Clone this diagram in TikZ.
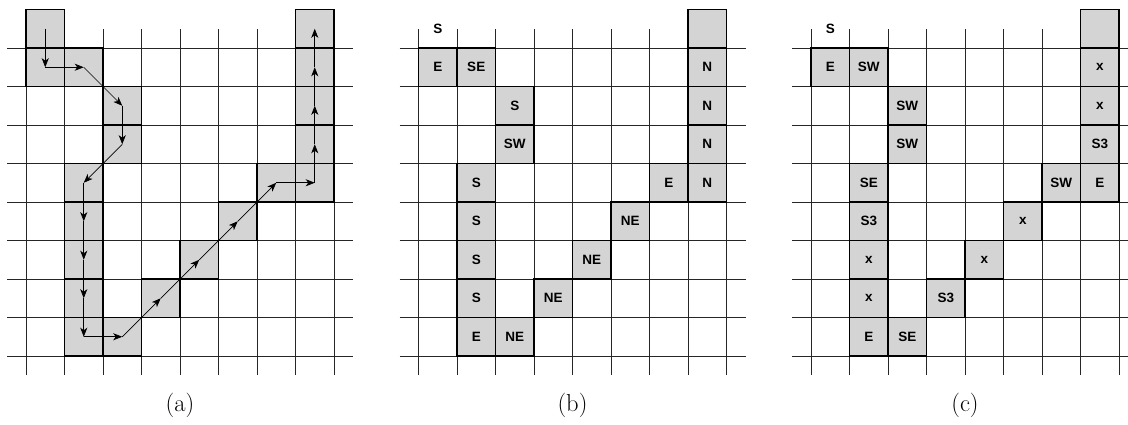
\documentclass[tikz,border=0pt]{standalone}
\usepackage{fontspec}
\newfontfamily\lblfont{Liberation Sans}
\usetikzlibrary{arrows.meta}
\definecolor{cellgray}{gray}{0.83}
\tikzset{
  x=1pt, y=-1pt,
  gridline/.style={line width=0.8pt, black!85},
  cellbox/.style={fill=cellgray, minimum width=38.5pt, minimum height=38.5pt, inner sep=0pt, outer sep=0pt, font=\lblfont\bfseries\fontsize{13.5}{15}\selectfont},
  cellborder/.style={draw=black, line width=1.6pt},
  celltext/.style={inner sep=0pt, font=\lblfont\bfseries\fontsize{13.5}{15}\selectfont},
  pathstep/.style={-{Stealth[length=9pt,width=7pt,inset=2.5pt]}, line width=0.7pt, black},
  caption/.style={font=\fontsize{24.5}{28}\selectfont, anchor=base}
}
\begin{document}
\begin{tikzpicture}
\useasboundingbox (0,0) rectangle (1128,424);
% grids
\foreach \ox in {0,392.5,785}{
  \foreach \j in {0,...,8}{
    \draw[gridline] (\ox+7,48+38.5*\j) -- (\ox+353,48+38.5*\j);
  }
  \foreach \i in {0,...,8}{
    \draw[gridline] (\ox+26+38.5*\i,29) -- (\ox+26+38.5*\i,375);
  }
}
% panel (a)
\foreach \n/\i/\j in {1/0/-1,2/0/0,3/1/0,4/2/1,5/2/2,6/1/3,7/1/4,8/1/5,9/1/6,10/1/7,11/2/7,12/3/6,13/4/5,14/5/4,15/6/3,16/7/3,17/7/2,18/7/1,19/7/0,20/7/-1}{
  \node[cellbox] (a\n) at (26+38.5*\i+19.25, 48+38.5*\j+19.25) {};
}
\foreach \n in {1,...,20}{
  \draw[cellborder] (a\n.north west) rectangle (a\n.south east);
}
\foreach \p/\q in {1/2,2/3,3/4,4/5,5/6,6/7,7/8,8/9,9/10,10/11,11/12,12/13,13/14,14/15,15/16,16/17,17/18,18/19,19/20}{
  \draw[pathstep] (a\p.center) -- (a\q.center);
}
% panel (b)
\node[celltext] (bs) at (392.5+26+19.25, 48-19.25) {S};
\foreach \n/\i/\j/\t in {1/0/0/E,2/1/0/SE,3/2/1/S,4/2/2/SW,5/1/3/S,6/1/4/S,7/1/5/S,8/1/6/S,9/1/7/E,10/2/7/NE,11/3/6/NE,12/4/5/NE,13/5/4/NE,14/6/3/E,15/7/3/N,16/7/2/N,17/7/1/N,18/7/0/N,19/7/-1/{}}{
  \node[cellbox] (b\n) at (392.5+26+38.5*\i+19.25, 48+38.5*\j+19.25) {\t};
}
\foreach \n in {1,...,19}{
  \draw[cellborder] (b\n.north west) rectangle (b\n.south east);
}
% panel (c)
\node[celltext] (cs) at (785+26+19.25, 48-19.25) {S};
\foreach \n/\i/\j/\t in {1/0/0/E,2/1/0/SW,3/2/1/SW,4/2/2/SW,5/1/3/SE,6/1/4/S3,7/1/5/x,8/1/6/x,9/1/7/E,10/2/7/SE,11/3/6/S3,12/4/5/x,13/5/4/x,14/6/3/SW,15/7/3/E,16/7/2/S3,17/7/1/x,18/7/0/x,19/7/-1/{}}{
  \node[cellbox] (c\n) at (785+26+38.5*\i+19.25, 48+38.5*\j+19.25) {\t};
}
\foreach \n in {1,...,19}{
  \draw[cellborder] (c\n.north west) rectangle (c\n.south east);
}
% captions
\node[caption] (capa) at (180,411) {(a)};
\node[caption] (capb) at (572.5,411) {(b)};
\node[caption] (capc) at (965,411) {(c)};
\end{tikzpicture}
\end{document}
